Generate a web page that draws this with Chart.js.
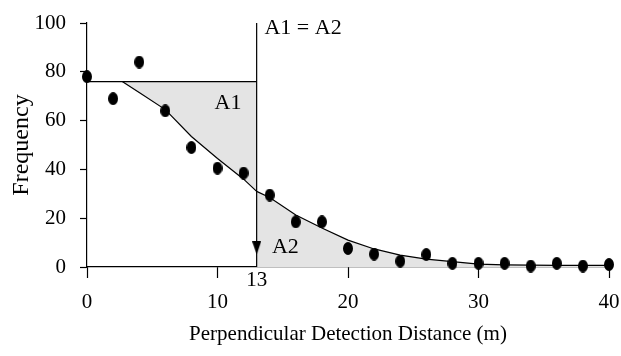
<!DOCTYPE html>
<html>
<head>
<meta charset="utf-8">
<script src="https://cdn.jsdelivr.net/npm/chart.js@4/dist/chart.umd.min.js"></script>
<style>
  html, body { margin: 0; padding: 0; background: #fff; }
  #wrap { width: 621px; height: 356px; }
</style>
</head>
<body>
<div id="wrap"><canvas id="detChart"></canvas></div>
<script>
// observed counts per 2 m band
const distances   = [0, 2, 4, 6, 8, 10, 12, 14, 16, 18, 20, 22, 24, 26, 28, 30, 32, 34, 36, 38, 40];
const frequencies = [78, 69, 84, 64, 49, 40.5, 38.5, 29.5, 18.5, 18.5, 7.6, 5.3, 2.4, 5.1, 1.5, 1.5, 1.5, 0.4, 1.5, 0.4, 1];

// fitted detection curve
const curveX = [2.7, 4, 6, 8, 10, 12, 13, 14, 16, 18, 20, 22, 24, 26, 28, 30, 32, 34, 36, 38, 40];
const curveY = [76, 71.5, 64.5, 53.5, 44.5, 36, 31, 28.5, 21.3, 16, 11, 7.4, 4.9, 3.2, 2.2, 1.2, 0.9, 0.8, 0.7, 0.7, 0.7];

const plateau = 76;     // level of the flat line
const cutoff  = 13;     // effective strip width

const xTicks = [0, 10, 20, 30, 40];
const yTicks = [0, 20, 40, 60, 80, 100];

const FONT = "'Liberation Serif', 'Times New Roman', serif";
const shade = '#e4e4e4';

// marker images
function ellipseMarker(w, h) {
    const c = document.createElement('canvas');
    c.width = w; c.height = h;
    const ctx = c.getContext('2d');
    ctx.fillStyle = '#000';
    ctx.beginPath();
    ctx.ellipse(w / 2, h / 2, w / 2, h / 2, 0, 0, Math.PI * 2);
    ctx.fill();
    return c;
}
function arrowMarker(w, h) {
    const c = document.createElement('canvas');
    c.width = w; c.height = h;
    const ctx = c.getContext('2d');
    ctx.fillStyle = '#000';
    ctx.beginPath();
    ctx.moveTo(0, 0);
    ctx.lineTo(w, 0);
    ctx.lineTo(w / 2, h);
    ctx.closePath();
    ctx.fill();
    return c;
}

const curvePts = curveX.map((x, i) => ({ x, y: curveY[i] }));
const a1Pts = curvePts.filter(p => p.x <= cutoff);
const a2Pts = curvePts.filter(p => p.x >= cutoff);
const obsPts = distances.map((x, i) => ({ x, y: frequencies[i] }));

const labels = [
    { text: 'A1',      x: 10.8, y: 67,  align: 'center' },
    { text: 'A2',      x: 15.2, y: 8.2, align: 'center' },
    { text: 'A1 = A2', x: 13.6, y: 98,  align: 'left' }
];

const textPlugin = {
    id: 'areaText',
    afterDatasetsDraw(chart) {
        const { ctx, scales: { x, y } } = chart;
        ctx.save();
        ctx.fillStyle = '#000';
        ctx.font = '22px ' + FONT;
        ctx.textBaseline = 'middle';
        labels.forEach(l => {
            ctx.textAlign = l.align;
            ctx.fillText(l.text, x.getPixelForValue(l.x), y.getPixelForValue(l.y));
        });
        // cutoff value under the axis
        ctx.textAlign = 'center';
        ctx.font = '21px ' + FONT;
        ctx.fillText(String(cutoff), x.getPixelForValue(cutoff), y.bottom + 13);
        ctx.restore();
    }
};

function noEdgePadding(s) {
    s.paddingLeft = 0; s.paddingRight = 0;
    s.paddingTop = 0; s.paddingBottom = 0;
}

new Chart(document.getElementById('detChart'), {
    type: 'scatter',
    data: {
        datasets: [
            {
                data: obsPts,
                pointStyle: ellipseMarker(10, 13),
                pointRadius: 6,
                showLine: false,
                clip: false,
                order: 0
            },
            {
                data: [{ x: cutoff, y: 7.8 }],
                pointStyle: arrowMarker(9, 13),
                pointRadius: 6,
                showLine: false,
                clip: false,
                order: 1
            },
            {
                data: a1Pts,
                showLine: true,
                borderColor: '#000',
                borderWidth: 1.2,
                backgroundColor: shade,
                fill: { value: plateau },
                pointRadius: 0,
                order: 3
            },
            {
                data: a2Pts,
                showLine: true,
                borderColor: '#000',
                borderWidth: 1.2,
                backgroundColor: shade,
                fill: 'origin',
                pointRadius: 0,
                order: 3
            },
            {
                data: [{ x: 0, y: plateau }, { x: cutoff, y: plateau }],
                showLine: true,
                borderColor: '#000',
                borderWidth: 1.2,
                pointRadius: 0,
                order: 2
            },
            {
                data: [{ x: cutoff, y: 100 }, { x: cutoff, y: 0 }],
                showLine: true,
                borderColor: '#000',
                borderWidth: 1.2,
                pointRadius: 0,
                clip: false,
                order: 2
            }
        ]
    },
    options: {
        responsive: true,
        maintainAspectRatio: false,
        animation: false,
        layout: { padding: { left: 7, top: 23, right: 12, bottom: 9 } },
        plugins: {
            legend: { display: false },
            tooltip: { enabled: false }
        },
        scales: {
            x: {
                type: 'linear',
                min: 0,
                max: 40,
                afterFit: s => { s.height = 80; noEdgePadding(s); },
                afterBuildTicks: s => { s.ticks = xTicks.map(v => ({ value: v })); },
                grid: { drawOnChartArea: false, tickLength: 11, color: '#000', tickWidth: 1.2 },
                border: { color: '#000', width: 1.2 },
                ticks: { color: '#000', padding: 12, maxRotation: 0, font: { family: FONT, size: 21 } },
                title: {
                    display: true,
                    text: 'Perpendicular Detection Distance (m)',
                    color: '#000',
                    padding: 0,
                    font: { family: FONT, size: 21 }
                }
            },
            y: {
                min: 0,
                max: 100,
                afterFit: s => { s.width = 80; noEdgePadding(s); },
                afterBuildTicks: s => { s.ticks = yTicks.map(v => ({ value: v })); },
                grid: { drawOnChartArea: false, tickLength: 7, color: '#000', tickWidth: 1.2 },
                border: { color: '#000', width: 1.2 },
                ticks: { color: '#000', padding: 14, font: { family: FONT, size: 21 } },
                title: {
                    display: true,
                    text: 'Frequency',
                    color: '#000',
                    padding: 0,
                    font: { family: FONT, size: 24 }
                }
            }
        }
    },
    plugins: [textPlugin]
});
</script>
</body>
</html>
